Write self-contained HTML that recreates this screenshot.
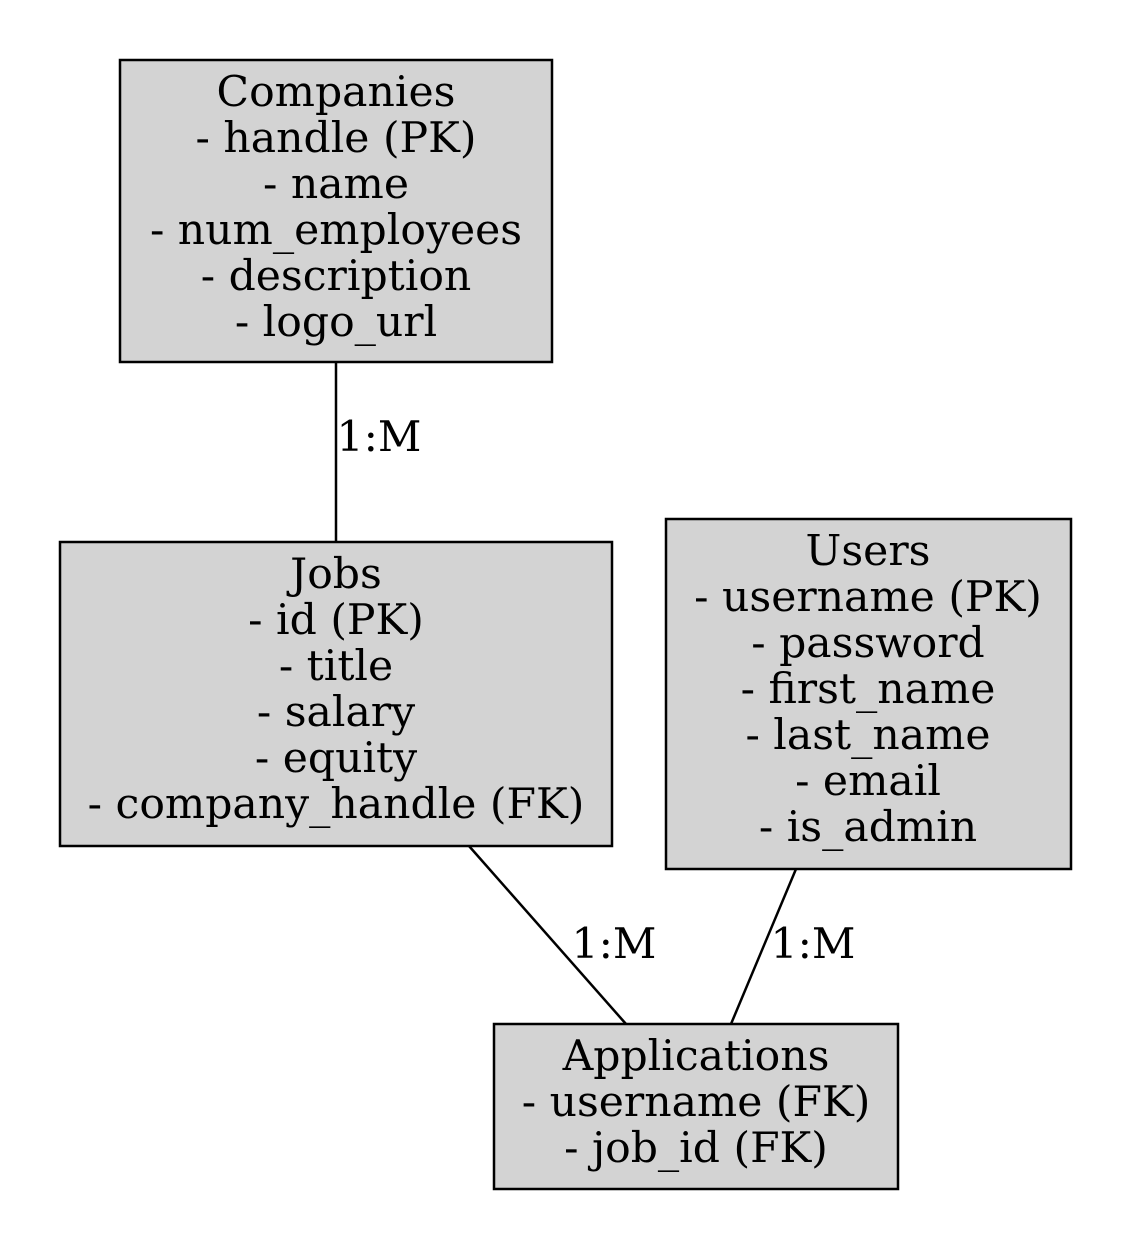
<!DOCTYPE html>
<html><head><meta charset="utf-8"><style>
html,body{margin:0;padding:0;background:#fff;}
svg{display:block;}
text{font-family:"DejaVu Serif","Liberation Serif",serif;font-size:42.5px;fill:#000;text-anchor:middle;}
</style></head><body>
<svg width="1131" height="1248" viewBox="0 0 1131 1248" xmlns="http://www.w3.org/2000/svg">
<rect width="1131" height="1248" fill="#fff"/>
<g stroke="#000" stroke-width="2.5" fill="none">
<line x1="336" y1="362" x2="336" y2="542"/>
<line x1="469" y1="846" x2="626" y2="1024"/>
<line x1="796" y1="869" x2="731" y2="1024"/>
</g>
<g fill="#d3d3d3" stroke="#000" stroke-width="2.5">
<rect x="120" y="60" width="432" height="302"/>
<rect x="60" y="542" width="552" height="304"/>
<rect x="666" y="519" width="405" height="350"/>
<rect x="494" y="1024" width="404" height="165"/>
</g>
<text x="336" y="106">Companies</text>
<text x="336" y="152">- handle (PK)</text>
<text x="336" y="198">- name</text>
<text x="336" y="244">- num_employees</text>
<text x="336" y="290">- description</text>
<text x="336" y="336">- logo_url</text>

<text x="336" y="588">Jobs</text>
<text x="336" y="634">- id (PK)</text>
<text x="336" y="680">- title</text>
<text x="336" y="726">- salary</text>
<text x="336" y="772">- equity</text>
<text x="336" y="818">- company_handle (FK)</text>

<text x="868" y="565">Users</text>
<text x="868" y="611">- username (PK)</text>
<text x="868" y="657">- password</text>
<text x="868" y="703">- first_name</text>
<text x="868" y="749">- last_name</text>
<text x="868" y="795">- email</text>
<text x="868" y="841">- is_admin</text>

<text x="696" y="1070">Applications</text>
<text x="696" y="1116">- username (FK)</text>
<text x="696" y="1162">- job_id (FK)</text>

<text x="379" y="451">1:M</text>
<text x="614" y="958">1:M</text>
<text x="813" y="958">1:M</text>
</svg>
</body></html>
